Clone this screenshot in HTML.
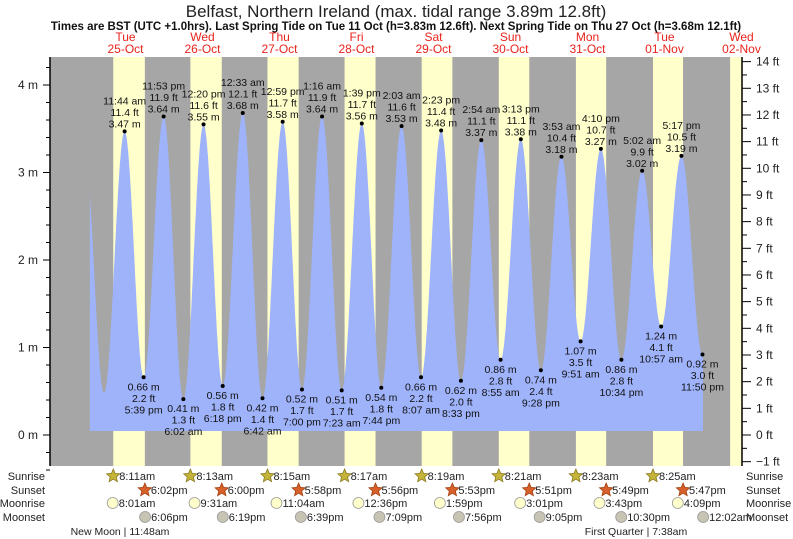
<!DOCTYPE html>
<html><head><meta charset="utf-8"><style>
html,body{margin:0;padding:0;background:#fff;}
svg{display:block;font-family:"Liberation Sans",sans-serif;}
</style></head><body>
<svg id="chart" width="793" height="539" viewBox="0 0 793 539" xmlns="http://www.w3.org/2000/svg">
<text x="396" y="17" text-anchor="middle" font-size="17" fill="#222">Belfast, Northern Ireland (max. tidal range 3.89m 12.8ft)</text>
<text x="396" y="30" text-anchor="middle" font-size="11.5" font-weight="bold" fill="#111">Times are BST (UTC +1.0hrs). Last Spring Tide on Tue 11 Oct (h=3.83m 12.6ft). Next Spring Tide on Thu 27 Oct (h=3.68m 12.1ft)</text>
<g id="bg"></g><g id="tide"></g><g id="axes"></g><g id="labels"></g><g id="astro"></g>
</svg>
<script>
const dayNames = ["Tue","Wed","Thu","Fri","Sat","Sun","Mon","Tue","Wed"];
const dayDates = ["25-Oct","26-Oct","27-Oct","28-Oct","29-Oct","30-Oct","31-Oct","01-Nov","02-Nov"];
const extremeDay = [0,0,0,0,1,1,1,2,2,2,2,3,3,3,3,4,4,4,4,5,5,5,5,6,6,6,6,7,7,7,7];
const extremeTime = ["5:18am","11:44am","5:39pm","11:53pm","6:02am","12:20pm","6:18pm","12:33am","6:42am","12:59pm","7:00pm","1:16am","7:23am","1:39pm","7:44pm","2:03am","8:07am","2:23pm","8:33pm","2:54am","8:55am","3:13pm","9:28pm","3:53am","9:51am","4:10pm","10:34pm","5:02am","10:57am","5:17pm","11:50pm"];
const extremeHeight = [0.48,3.47,0.66,3.64,0.41,3.55,0.56,3.68,0.42,3.58,0.52,3.64,0.51,3.56,0.54,3.53,0.66,3.48,0.62,3.37,0.86,3.38,0.74,3.18,1.07,3.27,0.86,3.02,1.24,3.19,0.92];
const extremeLabeled = [false,true,true,true,true,true,true,true,true,true,true,true,true,true,true,true,true,true,true,true,true,true,true,true,true,true,true,true,true,true,true];
const sunrise = ["8:11am","8:13am","8:15am","8:17am","8:19am","8:21am","8:23am","8:25am","8:27am"];
const sunset = ["6:02pm","6:00pm","5:58pm","5:56pm","5:53pm","5:51pm","5:49pm","5:47pm"];
const moonrise = ["8:01am","9:31am","11:04am","12:36pm","1:59pm","3:01pm","3:43pm","4:09pm"];
const moonset = ["6:06pm","6:19pm","6:39pm","7:09pm","7:56pm","9:05pm","10:30pm","12:02am"];
const moonsetDay = [0,1,2,3,4,5,6,8];
const mTicks = [0,1,2,3,4];
const ftTicks = [-1,0,1,2,3,4,5,6,7,8,9,10,11,12,13,14];

const NS="http://www.w3.org/2000/svg";
const X0=87, PXH=77/24, Y0=435, PXM=87.5, L=50, R=742, T=57, B=466;
function xT(t){return X0+t*PXH;}
function yM(m){return Y0-m*PXM;}
function parseT(s){const m=s.match(/(\d+):(\d+)(am|pm)/);let h=+m[1]%12;if(m[3]=="pm")h+=12;return h+ +m[2]/60;}
function el(tag,attrs,parent,txt){const e=document.createElementNS(NS,tag);for(const k in attrs)e.setAttribute(k,attrs[k]);if(txt!==undefined)e.textContent=txt;parent.appendChild(e);return e;}
const bg=document.getElementById('bg'),tide=document.getElementById('tide'),axes=document.getElementById('axes'),labels=document.getElementById('labels'),astro=document.getElementById('astro');

let r=el('rect',{x:L,y:T,width:R-L,height:B-T,fill:'#a6a6a6'},bg);


for(let d=0;d<sunrise.length;d++){
  const s=xT(d*24+parseT(sunrise[d]));
  const e=d<sunset.length?xT(d*24+parseT(sunset[d])):R;
  const b=el('rect',{x:s,y:T,width:Math.min(e,R)-s,height:B-T,fill:'#ffffcc'},bg);
  
  
}
for(let d=0;d<dayNames.length;d++){
  const x=xT(d*24+12);
  const t1=el('text',{x:x,y:41,'text-anchor':'middle','font-size':12,fill:'#e8231c'},labels,dayNames[d]);
  
  
  const t2=el('text',{x:x,y:53,'text-anchor':'middle','font-size':12,fill:'#e8231c'},labels,dayDates[d]);
  
  
}
const ext=extremeTime.map((s,i)=>({t:extremeDay[i]*24+parseT(s),h:extremeHeight[i]}));
const pre={t:ext[0].t-6.2,h:3.3};
const all=[pre].concat(ext);
function hAt(t){for(let i=0;i<all.length-1;i++){const a=all[i],b=all[i+1];if(t>=a.t&&t<=b.t){const f=(t-a.t)/(b.t-a.t);return a.h+(b.h-a.h)*(1-Math.cos(Math.PI*f))/2;}}
  const a=all[all.length-1];return a.h+ (t-a.t)*0.03;}
const tStart=0.9,tEnd=192;
let pts=[[xT(tStart),431]];
for(let t=tStart;t<=tEnd;t+=0.1)pts.push([xT(t),yM(hAt(t))]);
pts.push([xT(tEnd),431]);
const poly=el('polygon',{points:pts.map(p=>p[0].toFixed(1)+','+p[1].toFixed(1)).join(' '),fill:'#9fb3fb'},tide);


ext.forEach((e,i)=>{
  if(!extremeLabeled[i])return;
  const x=xT(e.t),y=yM(e.h),hi=e.h>2;
  const dot=el('circle',{cx:x,cy:y,r:2,fill:'#000'},labels);
  
  
  const ft=(e.h/0.3048).toFixed(1)+' ft', m=e.h.toFixed(2)+' m';
  const lines=hi?[extremeTime[i].replace(/(am|pm)/,' $1'),ft,m]:[m,ft,extremeTime[i].replace(/(am|pm)/,' $1')];
  const base=hi?y-27:y+13;
  lines.forEach((s,k)=>{
    const t=el('text',{x:x,y:base+k*11.5,'text-anchor':'middle','font-size':10.5,fill:'#111'},labels,s);
    
    
  });
});
el('line',{x1:L,y1:T,x2:L,y2:B,stroke:'#000','stroke-width':1.5},axes);
el('line',{x1:R,y1:T,x2:R,y2:B,stroke:'#000','stroke-width':1.5},axes);
for(let m=-0.4;m<=4.31;m+=0.2){const y=yM(m);const major=Math.abs(m-Math.round(m))<0.01;
  el('line',{x1:major?43:46,y1:y,x2:L,y2:y,stroke:'#000'},axes);}
mTicks.forEach(m=>{const t=el('text',{x:38,y:yM(m)+4,'text-anchor':'end','font-size':12,fill:'#222'},axes,m+' m');
  
  });
for(let f=-1;f<=14;f+=0.5){const y=yM(f*0.3048);const major=f%1==0;
  el('line',{x1:R,y1:y,x2:major?751:747,y2:y,stroke:'#000'},axes);}
ftTicks.forEach(f=>{const t=el('text',{x:756,y:yM(f*0.3048)+4,'font-size':12,fill:'#222'},axes,(f<0?'\u2212'+(-f):f)+' ft');
  
  });
const rows=[["Sunrise",480],["Sunset",494],["Moonrise",507],["Moonset",521]];
rows.forEach(rw=>{
  const a=el('text',{x:45,y:rw[1],'text-anchor':'end','font-size':11,fill:'#222'},astro,rw[0]);
  
  
  const b=el('text',{x:746,y:rw[1],'font-size':11,fill:'#222'},astro,rw[0]);
  
  
});
function star(cx,cy,fill,stroke){let p=[];for(let k=0;k<10;k++){const a=-Math.PI/2+k*Math.PI/5,rr=k%2?3.2:7;p.push((cx+rr*Math.cos(a)).toFixed(1)+','+(cy+rr*Math.sin(a)).toFixed(1));}
  return el('polygon',{points:p.join(' '),fill:fill,stroke:stroke,'stroke-width':0.8},astro);}
function event(list,dayOf,row,kind){
  list.forEach((s,i)=>{
    const d=dayOf?dayOf[i]:i; const x=xT(d*24+parseT(s)); const y=rows[row][1]-4;
    let ic;
    if(kind=='sr')ic=star(x,y,'#c4b43a','#8a7a20');
    else if(kind=='ss')ic=star(x,y,'#d8602a','#a04010');
    else ic=el('circle',{cx:x,cy:y,r:5.5,fill:kind=='mr'?'#ffffcc':'#c8c4b4',stroke:'#999','stroke-width':0.8},astro);
    
    
    const t=el('text',{x:x+6,y:rows[row][1],'font-size':11,fill:'#222'},astro,s);
    
    
  });
}
event(sunrise.slice(0,8),null,0,'sr');
event(sunset,null,1,'ss');
event(moonrise,null,2,'mr');
event(moonset,moonsetDay,3,'ms');
const p1=el('text',{x:120,y:535,'text-anchor':'middle','font-size':10.5,fill:'#222'},astro,'New Moon | 11:48am');


const p2=el('text',{x:636,y:535,'text-anchor':'middle','font-size':10.5,fill:'#222'},astro,'First Quarter | 7:38am');


</script>
</body></html>
